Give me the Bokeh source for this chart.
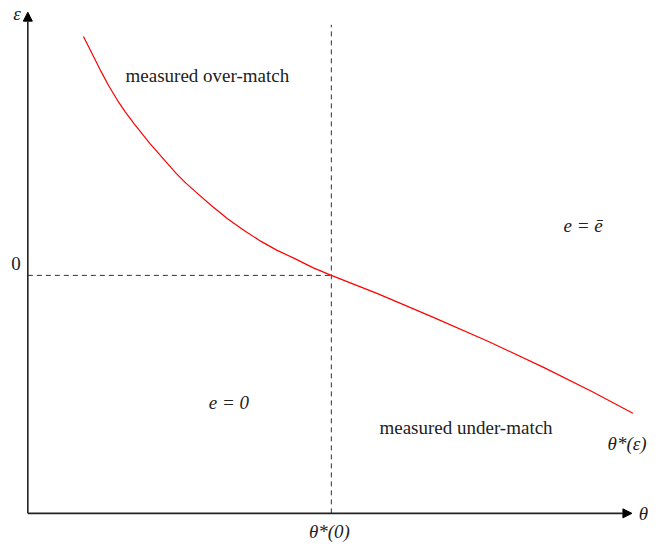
from bokeh.plotting import figure
from bokeh.models import Range1d, Arrow, NormalHead
from bokeh.core.properties import value
from bokeh.embed import file_html
from bokeh.resources import INLINE

# diagram units: origin of the axes at (0, 0)
theta_star_0 = 311
eps_zero = 245
axis_x_end = 619
axis_y_end = 516
guide_top = 503

# red curve theta*(epsilon)
curve_x = [57, 65, 75, 83, 92, 100, 109, 117, 125, 138, 152, 162, 172, 188, 205, 222,
           239, 255, 272, 292, 311, 359, 415, 472, 529, 579, 620]
curve_y = [491, 475, 455, 440, 425, 413, 401, 391, 381, 366, 350, 340, 331, 317, 303, 291,
           280, 271, 263, 253, 245, 226, 202, 177, 150, 125, 103]

# plain labels
plain_text = ["measured over-match", "measured under-match", "0"]
plain_x = [184, 449, -12]
plain_y = [451, 88, 257]

# math labels (italic), centred
math_text = ["e = \u0113", "e = 0", "\u03b5", "\u03b8*(0)"]
math_x = [569, 206, -11, 309]
math_y = [296, 114, 515, -19]

# math label, right aligned
right_text = ["\u03b8*(\u03b5)"]
right_x = [634]
right_y = [72]

# math label, left aligned
left_text = ["\u03b8"]
left_x = [626]
left_y = [0]

FONT = value("Liberation Serif")
TXT = "#222222"
SIZE = "19px"

p = figure(width=648, height=542, output_backend="svg", toolbar_location=None,
           x_range=Range1d(-28, 636), y_range=Range1d(-30, 528),
           min_border=0)
p.axis.visible = False
p.grid.visible = False
p.outline_line_color = None
p.background_fill_color = "white"
p.border_fill_color = "white"

# dashed guides
p.line([theta_star_0, theta_star_0], [0, guide_top], line_color="#333333",
       line_width=1, line_dash="5 4")
p.line([0, theta_star_0], [eps_zero, eps_zero], line_color="#333333",
       line_width=1, line_dash="5 4")

# curve
p.line(curve_x, curve_y, line_color="red", line_width=1.2)

# axes with arrows
p.add_layout(Arrow(x_start=0, y_start=0, x_end=axis_x_end, y_end=0,
                   line_color="#222222", line_width=1.6,
                   end=NormalHead(size=9, fill_color="black", line_color="black")))
p.add_layout(Arrow(x_start=0, y_start=0, x_end=0, y_end=axis_y_end,
                   line_color="#222222", line_width=1.6,
                   end=NormalHead(size=9, fill_color="black", line_color="black")))

p.text(x=plain_x, y=plain_y, text=plain_text, text_font=FONT,
       text_font_size=SIZE, text_align="center", text_baseline="middle",
       text_color=TXT)
p.text(x=math_x, y=math_y, text=math_text, text_font=FONT,
       text_font_size=SIZE, text_font_style="italic", text_align="center",
       text_baseline="middle", text_color=TXT)
p.text(x=right_x, y=right_y, text=right_text, text_font=FONT,
       text_font_size=SIZE, text_font_style="italic", text_align="right",
       text_baseline="middle", text_color=TXT)
p.text(x=left_x, y=left_y, text=left_text, text_font=FONT,
       text_font_size=SIZE, text_font_style="italic", text_align="left",
       text_baseline="middle", text_color=TXT)

open("out.html", "w").write(file_html(p, INLINE))
